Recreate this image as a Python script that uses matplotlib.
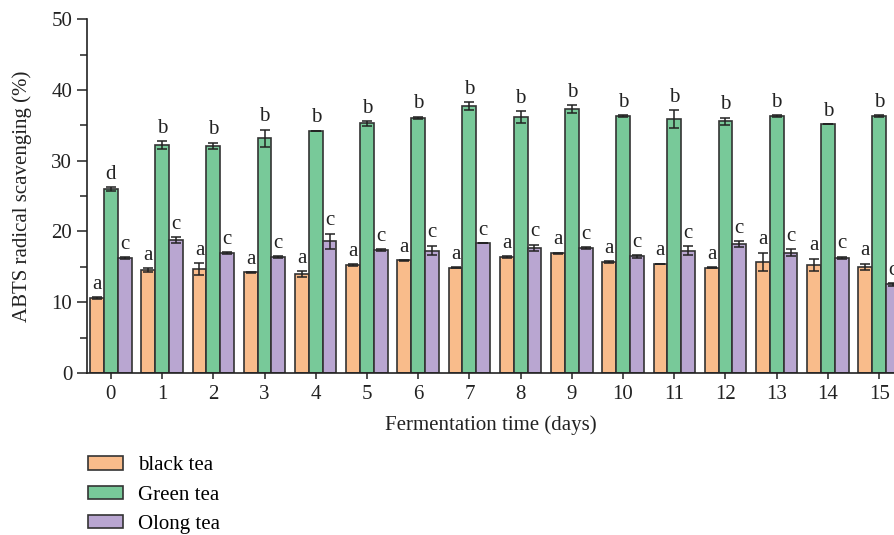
import numpy as np
import matplotlib
matplotlib.use("Agg")
import matplotlib.pyplot as plt
from matplotlib.ticker import MultipleLocator

plt.rcParams['font.family'] = ['Liberation Serif', 'DejaVu Serif']

days = list(range(16))
series_names = ["black tea", "Green tea", "Olong tea"]

black_tea = [10.6, 14.5, 14.7, 14.2, 14.0, 15.2, 15.9, 14.9, 16.4, 16.9,
             15.7, 15.4, 14.9, 15.7, 15.3, 15.0]
green_tea = [26.0, 32.2, 32.1, 33.2, 34.2, 35.3, 36.1, 37.7, 36.2, 37.3,
             36.3, 35.9, 35.6, 36.3, 35.2, 36.3]
olong_tea = [16.2, 18.8, 16.9, 16.4, 18.6, 17.4, 17.3, 18.3, 17.7, 17.6,
             16.5, 17.3, 18.2, 17.0, 16.3, 12.5]

black_err = [0.1, 0.3, 0.8, 0.05, 0.45, 0.15, 0.1, 0.1, 0.15, 0.1,
             0.15, 0.05, 0.05, 1.3, 0.85, 0.45]
green_err = [0.25, 0.55, 0.45, 1.2, 0.05, 0.35, 0.15, 0.6, 0.8, 0.55,
             0.1, 1.3, 0.5, 0.15, 0.0, 0.15]
olong_err = [0.15, 0.45, 0.15, 0.15, 1.1, 0.15, 0.7, 0.0, 0.45, 0.15,
             0.2, 0.6, 0.4, 0.5, 0.15, 0.15]

black_letters = ["a"] * 16
green_letters = ["d"] + ["b"] * 15
olong_letters = ["c"] * 16

colors = ["#F9BC8B", "#78C999", "#B9A6D1"]
edge = "#333333"
ink = "#222222"

fig = plt.figure(figsize=(8.95, 5.35), dpi=100)
ax = fig.add_axes([0.097, 0.303, 0.903, 0.661])

x = np.arange(len(days))
w = 0.27
offsets = [-w, 0, w]
values = [black_tea, green_tea, olong_tea]
errors = [black_err, green_err, olong_err]
letters = [black_letters, green_letters, olong_letters]

handles = []
for off, vals, errs, lets, col, name in zip(offsets, values, errors, letters, colors, series_names):
    b = ax.bar(x + off, vals, width=w, color=col, edgecolor=edge, linewidth=1.2,
               yerr=errs, capsize=3.5,
               error_kw=dict(ecolor=ink, elinewidth=1.1, capthick=1.1),
               label=name, zorder=2)
    handles.append(b)
    for xi, v, e, t in zip(x + off, vals, errs, lets):
        ax.text(xi, v + e + 0.45, t, ha="center", va="bottom", fontsize=15,
                color=ink)

ax.set_xlim(-0.47, 15.31)
ax.set_ylim(0, 50)
ax.set_xticks(x)
ax.set_xticklabels([str(d) for d in days])
ax.yaxis.set_major_locator(MultipleLocator(10))
ax.yaxis.set_minor_locator(MultipleLocator(5))

for s in ["top", "right"]:
    ax.spines[s].set_visible(False)
for s in ["left", "bottom"]:
    ax.spines[s].set_linewidth(1.2)
    ax.spines[s].set_color(ink)

ax.tick_params(axis="y", which="major", direction="out", length=7, width=1.1,
               pad=3.5, labelsize=15, colors=ink)
ax.tick_params(axis="y", which="minor", direction="out", length=5, width=1.1,
               colors=ink)
ax.tick_params(axis="x", which="major", direction="out", length=4.5, width=1.1,
               pad=4, labelsize=15, colors=ink)

ax.set_ylabel("ABTS radical scavenging (%)", fontsize=15, color=ink, labelpad=14)
ax.set_xlabel("Fermentation time (days)", fontsize=15, color=ink, labelpad=8)

fig.legend(handles=handles, labels=series_names, loc="upper left",
           bbox_to_anchor=(0.098, 0.147), frameon=False, fontsize=15,
           handlelength=1.7, handleheight=0.6, labelspacing=0.5,
           handletextpad=0.7, borderaxespad=0, borderpad=0)

fig.savefig("out.png", dpi=100)
